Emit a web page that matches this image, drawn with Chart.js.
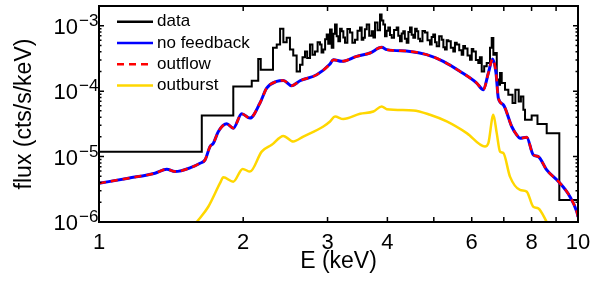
<!DOCTYPE html>
<html>
<head>
<meta charset="utf-8">
<script src="https://cdn.jsdelivr.net/npm/chart.js@4/dist/chart.umd.min.js"></script>
<style>html,body{margin:0;padding:0;background:#fff}</style>
</head>
<body>
<canvas id="c" width="599" height="282"></canvas>
<script>
// observed spectrum (histogram, value holds from each bin edge to the next)
const dataE = [1.0, 1.639, 1.907, 2.084, 2.150, 2.176, 2.308, 2.350, 2.388, 2.426, 2.465, 2.504, 2.544, 2.586,
  2.628, 2.66, 2.692, 2.72, 2.757, 2.79, 2.824, 2.86, 2.893, 2.915, 2.940, 2.965, 2.988, 3.01, 3.036, 3.061,
  3.085, 3.110, 3.135, 3.160, 3.186, 3.212, 3.237, 3.263, 3.30, 3.342, 3.38, 3.423, 3.465, 3.507, 3.535, 3.563,
  3.59, 3.622, 3.665, 3.710, 3.74, 3.769, 3.815, 3.861, 3.89, 3.922, 3.955, 3.985, 4.018, 4.05, 4.084, 4.13,
  4.183, 4.215, 4.250, 4.285, 4.318, 4.35, 4.389, 4.425, 4.460, 4.495, 4.531, 4.57, 4.606, 4.64, 4.679, 4.735,
  4.792, 4.85, 4.909, 4.948, 4.987, 5.03, 5.070, 5.13, 5.193, 5.235, 5.276, 5.32, 5.361, 5.425, 5.491, 5.535,
  5.582, 5.65, 5.717, 5.76, 5.808, 5.88, 5.950, 6.0, 6.045, 6.12, 6.192, 6.24, 6.295, 6.37, 6.448,
  6.551, 6.605, 6.657, 6.711, 6.767, 6.818, 6.874, 6.930, 7.041, 7.154, 7.30, 7.40, 7.52, 7.60, 7.69, 7.752,
  8.003, 8.230, 8.603, 9.141, 10.0];
const dataFlux = [1.18e-5, 4.24e-5, 1.18e-4, 1.44e-4, 3.10e-4, 2.13e-4, 4.62e-4, 5.14e-4, 9.0e-4, 5.6e-4, 6.57e-4,
  4.31e-4, 3.5e-4, 2.0e-4,
  2.54e-4, 3.3e-4, 4.05e-4, 3.2e-4, 5.14e-4, 3.6e-4, 4.05e-4, 5.6e-4, 5.14e-4, 3.9e-4, 4.31e-4, 6.2e-4, 7.31e-4,
  5.3e-4, 8.71e-4, 4.62e-4, 7.5e-4, 1.04e-3, 6.9e-4, 5.77e-4, 9.0e-4, 8.21e-4, 6.6e-4, 5.51e-4, 8.9e-4, 7.84e-4,
  5.5e-4, 6.12e-4, 8.4e-4, 9.35e-4, 6.1e-4, 6.57e-4, 8.8e-4, 1.04e-3, 7.0e-4, 8.21e-4, 6.6e-4, 1.115e-3, 8.5e-4,
  1.48e-3, 1.2e-3, 1.04e-3, 6.88e-4, 8.4e-4, 9.35e-4, 7.2e-4, 6.57e-4, 8.6e-4, 9.35e-4, 7.0e-4, 5.77e-4, 7.6e-4,
  8.21e-4, 6.3e-4, 5.51e-4, 8.0e-4, 9.35e-4, 7.3e-4, 6.57e-4, 9.0e-4, 8.21e-4, 6.3e-4, 5.77e-4, 8.3e-4, 7.84e-4,
  6.0e-4, 5.14e-4, 6.7e-4, 7.31e-4, 5.6e-4, 4.84e-4, 6.9e-4, 6.12e-4, 4.7e-4, 4.31e-4, 6.0e-4, 5.77e-4, 4.6e-4,
  4.05e-4, 5.5e-4, 5.14e-4, 4.2e-4, 3.61e-4, 4.9e-4, 4.5e-4, 3.5e-4, 3.03e-4, 4.4e-4, 4.05e-4, 3.0e-4, 2.69e-4,
  3.3e-4, 2.0e-4, 2.4e-4, 2.69e-4,
  4.6e-4, 6.5e-4, 3.61e-4, 3.83e-4, 1.50e-4, 1.25e-4, 1.89e-4, 1.33e-4,
  1.05e-4, 8.81e-5, 6.57e-5, 1.05e-4, 6.95e-5, 8.3e-5, 5.19e-5, 3.65e-5, 4.24e-5, 3.15e-5, 2.28e-5, 2.17e-6, 2.17e-6];

// model spectra
const modelE = [1.0, 1.151, 1.309, 1.385, 1.441, 1.562, 1.625, 1.665, 1.705, 1.733, 1.775, 1.848, 1.907, 1.986,
  2.066, 2.168, 2.239, 2.35, 2.426, 2.525, 2.628, 2.848, 3.036, 3.085, 3.212, 3.451, 3.680, 3.892, 3.987, 4.460,
  4.83, 5.233, 5.672, 6.144, 6.345, 6.499, 6.636, 6.743, 6.818, 6.984, 7.271, 7.447, 7.567, 7.814, 8.066, 8.262,
  8.603, 9.17, 9.62, 9.94, 10.0];
const noFeedbackFlux = [3.9e-6, 4.67e-6, 5.57e-6, 6.41e-6, 5.89e-6, 6.88e-6, 7.9e-6, 8.9e-6, 1.42e-5, 1.60e-5,
  2.42e-5, 3.17e-5, 2.72e-5, 4.51e-5, 3.87e-5, 6.57e-5, 1.11e-4, 1.41e-4, 1.46e-4, 1.21e-4, 1.44e-4, 1.78e-4,
  2.6e-4, 3.03e-4, 2.85e-4, 3.40e-4, 3.83e-4, 4.67e-4, 4.31e-4, 4.05e-4, 3.61e-4, 2.85e-4, 2.0e-4, 1.33e-4,
  1.05e-4, 1.89e-4, 3.10e-4, 1.89e-4, 7.84e-5, 6.19e-5, 2.88e-5, 2.15e-5, 1.91e-5, 1.98e-5, 1.06e-5, 1.0e-5,
  6.25e-6, 3.92e-6, 2.44e-6, 1.44e-6, 1.2e-6];
const outflowFlux = noFeedbackFlux.slice();

const outburstE = [1.60, 1.691, 1.789, 1.818, 1.907, 1.995, 2.066, 2.186, 2.294, 2.426, 2.544, 2.670, 2.94, 3.036,
  3.11, 3.236, 3.507, 3.739, 3.892, 3.987, 4.531, 4.909, 5.32, 5.857, 6.395, 6.499, 6.656, 6.766, 6.874, 6.984,
  7.211, 7.567, 7.814, 8.066, 8.262, 8.603, 8.7];
const outburstFlux = [1.0e-6, 1.71e-6, 3.92e-6, 4.83e-6, 4.14e-6, 6.48e-6, 5.89e-6, 1.19e-5, 1.51e-5, 2.07e-5,
  1.70e-5, 2.02e-5, 2.88e-5, 3.44e-5, 4.1e-5, 3.74e-5, 4.51e-5, 4.89e-5, 5.83e-5, 5.3e-5, 5.06e-5, 4.35e-5,
  3.44e-5, 2.28e-5, 1.42e-5, 1.60e-5, 4.35e-5, 2.28e-5, 1.19e-5, 1.13e-5, 4.94e-6, 3.09e-6, 2.91e-6, 1.71e-6,
  1.62e-6, 1.0e-6, 0.85e-6];

const xTicks = [1, 2, 3, 4, 5, 6, 7, 8, 9, 10];
const xTickLabels = [1, 2, 3, 4, 6, 8, 10];
const yDecades = [-6, -5, -4, -3];

const FONT = '"Liberation Sans", Arial, Helvetica, sans-serif';

function pts(xs, ys) {
    return xs.map((x, i) => ({ x: x, y: ys[i] }));
}

// frame, inward ticks, y labels with exponents, legend
const decor = {
    id: 'decor',
    afterDatasetsDraw(chart) {
        const { ctx, chartArea: a, scales: { x, y } } = chart;
        ctx.save();
        ctx.strokeStyle = '#000';
        ctx.lineWidth = 1.5;
        ctx.beginPath();
        xTicks.slice(1, -1).forEach(v => {
            const px = x.getPixelForValue(v);
            ctx.moveTo(px, a.bottom); ctx.lineTo(px, a.bottom - 5);
            ctx.moveTo(px, a.top); ctx.lineTo(px, a.top + 5);
        });
        yDecades.forEach(d => {
            for (let m = 1; m <= 9; m++) {
                const v = m * Math.pow(10, d);
                const py = y.getPixelForValue(v);
                if (py < a.top || py > a.bottom) continue;
                const len = m === 1 ? 5 : 2.5;
                ctx.moveTo(a.left, py); ctx.lineTo(a.left + len, py);
                ctx.moveTo(a.right, py); ctx.lineTo(a.right - len, py);
            }
        });
        const p2 = y.getPixelForValue(2e-3);
        ctx.moveTo(a.left, p2); ctx.lineTo(a.left + 2.5, p2);
        ctx.moveTo(a.right, p2); ctx.lineTo(a.right - 2.5, p2);
        ctx.stroke();

        ctx.lineWidth = 2;
        ctx.strokeRect(a.left, a.top, a.right - a.left, a.bottom - a.top);

        ctx.fillStyle = '#000';
        yDecades.forEach(d => {
            const py = y.getPixelForValue(Math.pow(10, d));
            ctx.font = '22px ' + FONT;
            ctx.textAlign = 'right';
            ctx.textBaseline = 'alphabetic';
            ctx.fillText('10', a.left - 21, py + 8);
            ctx.font = '17px ' + FONT;
            ctx.textAlign = 'left';
            ctx.fillText('\u2212' + Math.abs(d), a.left - 20, py);
        });

        chart.data.datasets.forEach((ds, i) => {
            const ly = a.top + 15.7 + i * 21.3;
            ctx.beginPath();
            ctx.strokeStyle = ds.borderColor;
            ctx.lineWidth = 2.5;
            ctx.setLineDash(ds.borderDash || []);
            ctx.moveTo(a.left + 18, ly); ctx.lineTo(a.left + 54, ly);
            ctx.stroke();
            ctx.setLineDash([]);
            ctx.font = '17px ' + FONT;
            ctx.textAlign = 'left';
            ctx.textBaseline = 'middle';
            ctx.fillText(ds.label, a.left + 58, ly);
        });
        ctx.restore();
    }
};

new Chart(document.getElementById('c').getContext('2d'), {
    type: 'line',
    data: {
        datasets: [
            { label: 'data', data: pts(dataE, dataFlux), borderColor: '#000000', borderWidth: 2,
              stepped: true, pointRadius: 0, order: 2 },
            { label: 'no feedback', data: pts(modelE, noFeedbackFlux), borderColor: '#0000ff', borderWidth: 3,
              cubicInterpolationMode: 'monotone', pointRadius: 0, order: 1 },
            { label: 'outflow', data: pts(modelE, outflowFlux), borderColor: '#ff0000', borderWidth: 2.5,
              borderDash: [7, 5], cubicInterpolationMode: 'monotone', pointRadius: 0, order: 0 },
            { label: 'outburst', data: pts(outburstE, outburstFlux), borderColor: '#ffd700', borderWidth: 2.5,
              cubicInterpolationMode: 'monotone', pointRadius: 0, order: 3 }
        ]
    },
    options: {
        responsive: false,
        animation: false,
        devicePixelRatio: 1,
        layout: { padding: { top: 6, right: 21, left: 0, bottom: 0 } },
        plugins: { legend: { display: false }, tooltip: { enabled: false } },
        scales: {
            x: {
                type: 'logarithmic',
                min: 1,
                max: 10,
                afterBuildTicks: s => { s.ticks = xTicks.map(v => ({ value: v })); },
                afterFit: s => { s.height = 60; },
                grid: { display: false, drawTicks: false },
                border: { display: false },
                ticks: {
                    autoSkip: false, maxRotation: 0, minRotation: 0, padding: 8,
                    color: '#000', font: { family: FONT, size: 22 },
                    callback: v => xTickLabels.includes(v) ? String(v) : ''
                },
                title: { display: true, text: 'E (keV)', color: '#000',
                         font: { family: FONT, size: 23 }, padding: { top: 0, bottom: 7 } }
            },
            y: {
                type: 'logarithmic',
                min: 1e-6,
                max: 2e-3,
                afterFit: s => { s.width = 99; },
                grid: { display: false, drawTicks: false },
                border: { display: false },
                ticks: { display: false },
                title: { display: true, text: 'flux (cts/s/keV)', color: '#000',
                         font: { family: FONT, size: 23 }, padding: { top: 11, bottom: 0 } }
            }
        }
    },
    plugins: [decor]
});
</script>
</body>
</html>
